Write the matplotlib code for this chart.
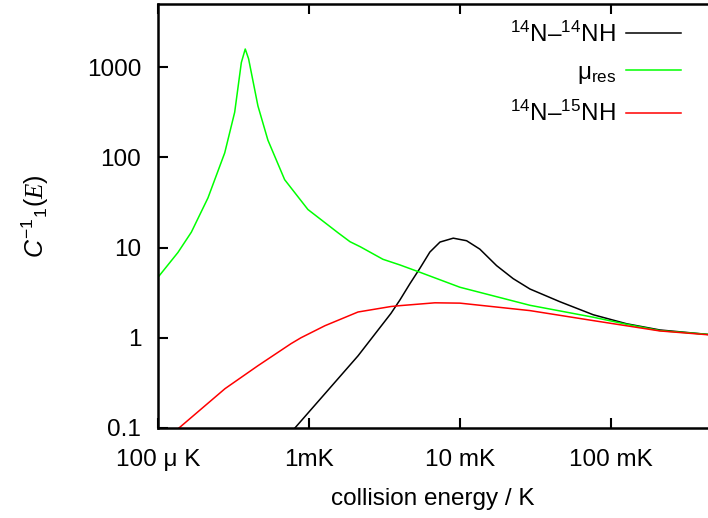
import matplotlib
matplotlib.use("Agg")
import matplotlib.pyplot as plt

plt.rcParams["font.family"] = ["Liberation Sans", "DejaVu Sans"]
plt.rcParams["mathtext.fontset"] = "custom"
plt.rcParams["mathtext.rm"] = "Liberation Sans"
plt.rcParams["mathtext.it"] = "Liberation Sans:italic"
plt.rcParams["mathtext.cal"] = "Liberation Serif:italic"

# data (collision energy in K)
e_n14 = [8.07e-4, 1.276e-3, 2.113e-3, 3.491e-3, 4.009e-3, 4.667e-3, 5.433e-3,
         6.324e-3, 7.379e-3, 9.036e-3, 1.107e-2, 1.355e-2, 1.750e-2, 2.254e-2,
         2.911e-2, 4.592e-2, 7.638e-2, 0.1271, 0.2113, 0.4385]
c_n14 = [0.1, 0.24, 0.63, 1.86, 2.63, 3.98, 5.89,
         8.91, 11.5, 12.7, 11.9, 9.6, 6.3, 4.52,
         3.47, 2.51, 1.80, 1.43, 1.22, 1.09]

e_mu = [1.00e-4, 1.355e-4, 1.663e-4, 2.143e-4, 2.767e-4, 3.221e-4, 3.565e-4,
        3.784e-4, 3.981e-4, 4.592e-4, 5.346e-4, 6.902e-4, 9.840e-4, 1.556e-3,
        1.871e-3, 2.188e-3, 3.090e-3, 4.009e-3, 5.433e-3, 1.0e-2, 2.911e-2,
        7.638e-2, 0.1271, 0.2113, 0.4385]
c_mu = [4.68, 8.81, 14.8, 35.5, 112, 316, 1122,
        1585, 1236, 371, 155, 56.5, 26.4, 14.6,
        11.6, 10.2, 7.41, 6.41, 5.32, 3.63, 2.29,
        1.69, 1.41, 1.20, 1.09]

e_n15 = [1.377e-4, 2.780e-4, 4.592e-4, 7.603e-4, 8.851e-4, 1.276e-3, 2.113e-3,
         3.491e-3, 4.009e-3, 6.823e-3, 1.0e-2, 2.911e-2, 7.638e-2, 0.2113, 0.4385]
c_n15 = [0.1, 0.273, 0.49, 0.86, 1.0, 1.36, 1.93,
         2.22, 2.27, 2.44, 2.42, 2.0, 1.55, 1.19, 1.08]

xticks = [1e-4, 1e-3, 1e-2, 1e-1]
xticklabels = ["100 \u03bc K", "1mK", "10 mK", "100 mK"]
yticks = [0.1, 1, 10, 100, 1000]
yticklabels = ["0.1", "1", "10", "100", "1000"]

fig = plt.figure(figsize=(7.08, 5.18), dpi=100)
ax = fig.add_axes([158 / 708, 90 / 518, 550 / 708, 424 / 518])

ax.plot(e_n14, c_n14, color="black", lw=1.1, label="$^{14}$N\u2013$^{14}$NH")
ax.plot(e_mu, c_mu, color="#00ff00", lw=1.1, label="\u03bc$_{\\rm res}$")
ax.plot(e_n15, c_n15, color="#ff0000", lw=1.1, label="$^{14}$N\u2013$^{15}$NH")

ax.set_xscale("log")
ax.set_yscale("log")
ax.set_xlim(1e-4, 0.44)
ax.set_ylim(0.1, 5000)
ax.set_xticks(xticks)
ax.set_xticklabels(xticklabels)
ax.set_yticks(yticks)
ax.set_yticklabels(yticklabels)
ax.minorticks_off()
ax.tick_params(which="both", direction="in", top=True, right=False,
               length=7, width=1.5, labelsize=17.5)
ax.tick_params(axis="x", pad=15)
ax.tick_params(axis="y", pad=12)
for s in ax.spines.values():
    s.set_linewidth(1.8)
ax.spines["right"].set_visible(False)

ax.set_xlabel("collision energy / K", fontsize=17.5, labelpad=12)
ax.set_ylabel("$C^{-1}{}_{1}(\\mathcal{E})$", fontsize=18, labelpad=26)

ax.legend(loc="upper right", bbox_to_anchor=(0.982, 1.0), frameon=False,
          markerfirst=False, fontsize=17.5, handlelength=2.26, labelspacing=0.62,
          handletextpad=0.4, borderaxespad=0.32)

fig.savefig("out.png", dpi=100)
